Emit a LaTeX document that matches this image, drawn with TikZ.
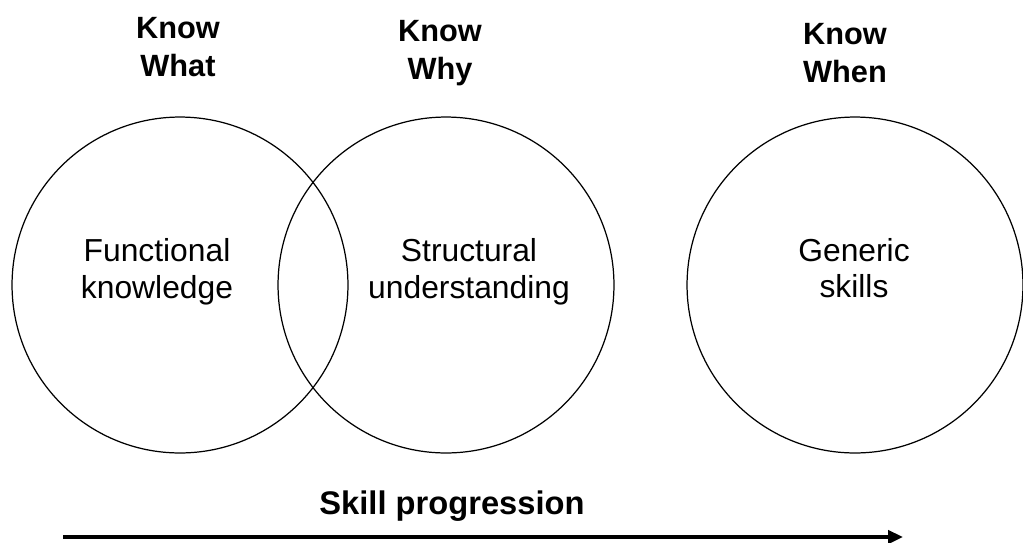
\documentclass[tikz,border=0pt]{standalone}
\usepackage{fontspec}
\setmainfont{Liberation Sans}
\usetikzlibrary{arrows.meta}

\begin{document}
\begin{tikzpicture}[
  x=0.02cm, y=-0.02cm,
  ring/.style={circle, draw, line width=0.7pt, minimum size=6.72cm, inner sep=0pt},
  inlabel/.style={align=center, inner sep=0pt, font=\fontsize{18.1}{20.8}\selectfont},
  toplabel/.style={align=center, inner sep=0pt, font=\fontsize{17.5}{21.5}\selectfont\bfseries},
  arr/.style={-{Triangle[length=8.5pt, width=7.5pt]}, line width=2.3pt}
]
\useasboundingbox (0,0) rectangle (1023,542);

% Circles
\node[ring] (what) at (180, 285) {};
\node[ring] (why)  at (446, 285) {};
\node[ring] (when) at (855, 285) {};

% Texts inside the circles
\node[inlabel] (func)   at (157, 272) {Functional\\knowledge};
\node[inlabel] (struct) at (469, 272) {Structural\\understanding};
\node[inlabel] (gen)    at (854, 268) {Generic\\skills};

% Headings
\node[toplabel] (kwhat) at (178, 47) {Know\\What};
\node[toplabel] (kwhy)  at (440, 53) {Know\\Why};
\node[toplabel] (kwhen) at (845, 53) {Know\\When};

% Progression arrow
\node[toplabel, font=\fontsize{18.6}{21.5}\selectfont\bfseries] (prog) at (452, 506) {Skill progression};
\coordinate (pstart) at (63, 537);
\coordinate (pend) at (903, 537);
\draw[arr] (pstart) -- (pend);

\end{tikzpicture}
\end{document}
